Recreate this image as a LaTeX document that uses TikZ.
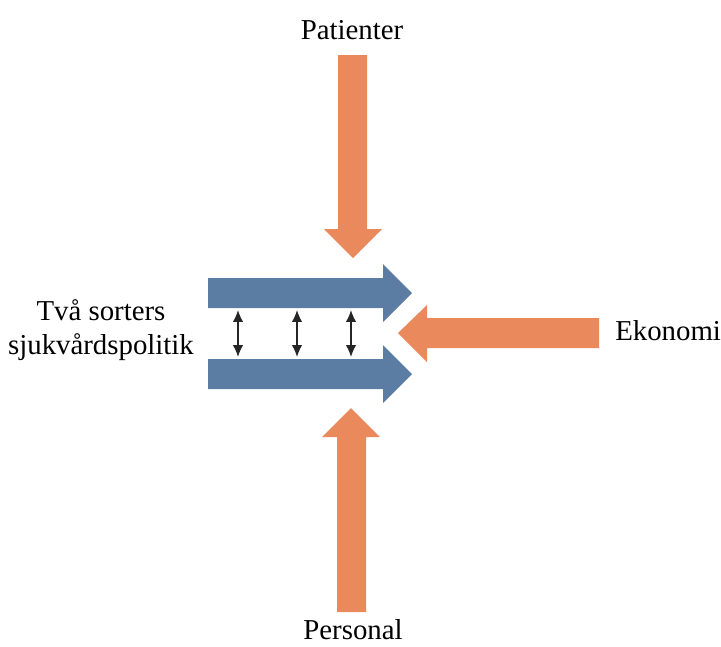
\documentclass[tikz,border=0pt]{standalone}
\usepackage{fontspec}
\setmainfont{Liberation Serif}
\usetikzlibrary{arrows.meta}
\definecolor{orangeC}{RGB}{233,137,92}
\definecolor{blueC}{RGB}{91,124,163}
\tikzset{
  inflow/.style={fill=orangeC},
  policy/.style={fill=blueC},
  link/.style={{Latex[length=8.5pt,width=7.5pt]}-{Latex[length=8.5pt,width=7.5pt]}, line width=1.1pt, black!85},
  label/.style={font=\fontsize{20.5}{24.2}\selectfont, inner sep=0pt}
}
\begin{document}
\begin{tikzpicture}[x=0.025cm, y=-0.025cm]
      \useasboundingbox (0,0) rectangle (721,646);

      % orange arrows
      \fill[inflow] (338,55) -- (367,55) -- (367,229) -- (382,229) -- (353,258) -- (324,229) -- (338,229) -- cycle;
      \fill[inflow] (337,612) -- (366,612) -- (366,437) -- (380,437) -- (351,408) -- (322,437) -- (337,437) -- cycle;
      \fill[inflow] (599,318) -- (599,348) -- (427,348) -- (427,362) -- (398,333) -- (427,305) -- (427,318) -- cycle;

      % blue arrows
      \fill[policy] (208,278) -- (383,278) -- (383,264) -- (412,293) -- (383,322) -- (383,308) -- (208,308) -- cycle;
      \fill[policy] (208,359) -- (383,359) -- (383,345) -- (412,374) -- (383,403) -- (383,389) -- (208,389) -- cycle;

      % labels
      \node[label, anchor=base](patienter) at (352,39){Patienter};
      \node[label, anchor=base](personal) at (353,639){Personal};
      \node[label, anchor=base west](ekonomi) at (615,340){Ekonomi};
      \node[label, align=center](politik) at (101,330){Två sorters\\sjukvårdspolitik};

      % links between the two policies
      \coordinate (u1) at (238,310);
      \coordinate (d1) at (238,357);
      \coordinate (u2) at (297,310);
      \coordinate (d2) at (297,357);
      \coordinate (u3) at (351,310);
      \coordinate (d3) at (351,357);

      \draw[link] (u1) -- (d1);
      \draw[link] (u2) -- (d2);
      \draw[link] (u3) -- (d3);
\end{tikzpicture}
\end{document}
